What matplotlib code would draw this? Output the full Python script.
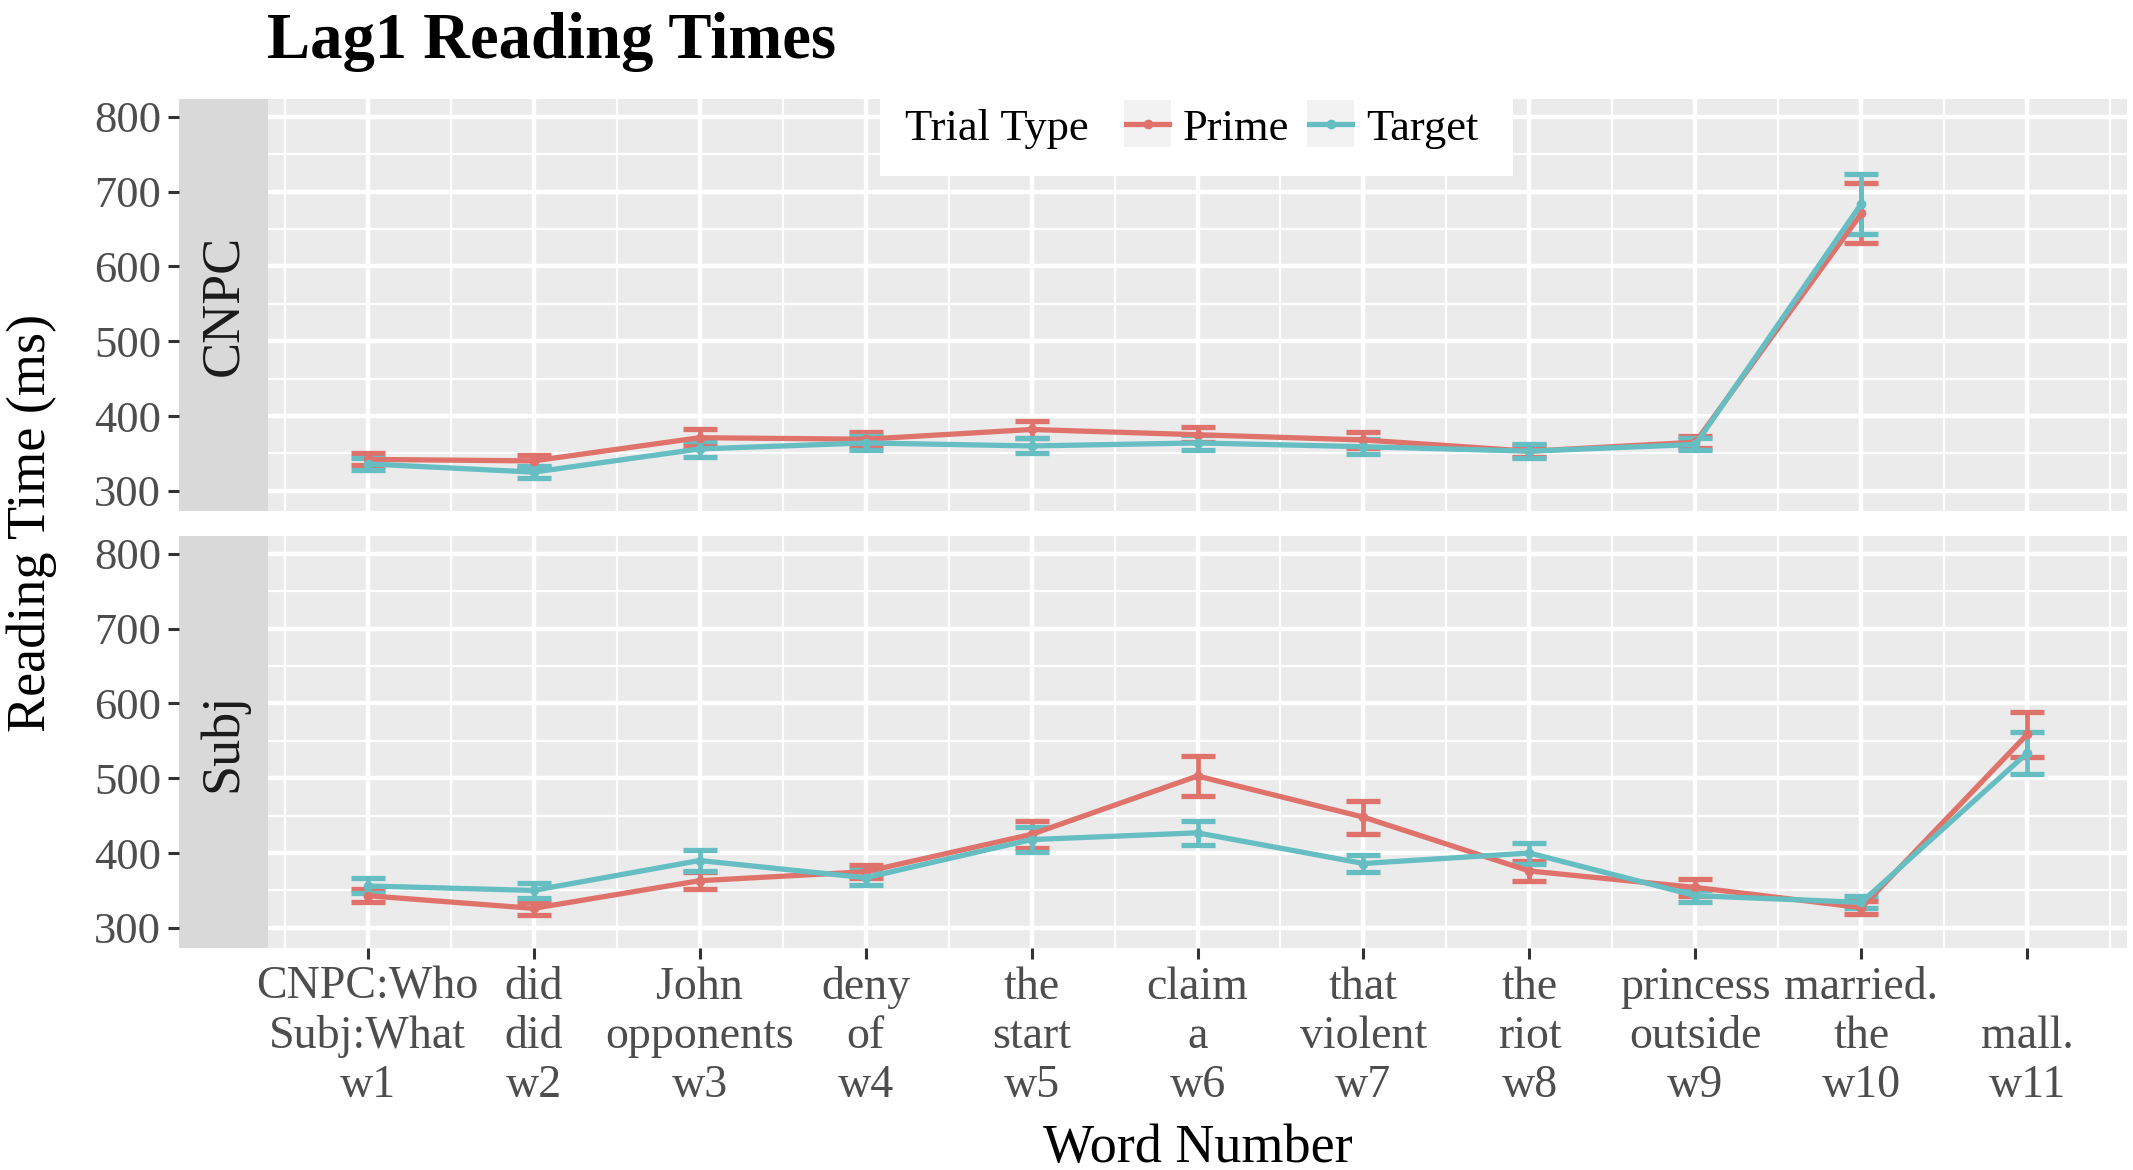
import matplotlib
matplotlib.use("Agg")
import matplotlib.pyplot as plt
from matplotlib.lines import Line2D
from matplotlib.patches import Rectangle
from matplotlib.ticker import MultipleLocator

plt.rcParams['font.family'] = ['Liberation Serif', 'DejaVu Serif']

# word positions and labels
word_numbers = list(range(1, 12))
word_ids = ["w1", "w2", "w3", "w4", "w5", "w6", "w7", "w8", "w9", "w10", "w11"]
cnpc_words = ["CNPC:Who", "did", "John", "deny", "the", "claim", "that", "the",
              "princess", "married.", ""]
subj_words = ["Subj:What", "did", "opponents", "of", "start", "a", "violent", "riot",
              "outside", "the", "mall."]

# reading times (ms) with error bars
cnpc_prime = [342, 340, 371, 369, 382, 375, 368, 353, 365, 671]
cnpc_prime_err = [8, 8, 11, 9, 12, 10, 11, 8, 8, 40]
cnpc_target = [336, 325, 356, 364, 360, 364, 359, 353, 362, 684]
cnpc_target_err = [8, 8, 11, 9, 10, 10, 10, 9, 8, 40]

subj_prime = [343, 326, 363, 375, 425, 503, 448, 376, 354, 327, 559]
subj_prime_err = [9, 9, 11, 9, 18, 27, 22, 14, 11, 9, 30]
subj_target = [356, 350, 390, 367, 418, 427, 386, 400, 343, 334, 534]
subj_target_err = [10, 10, 14, 10, 17, 16, 12, 14, 8, 8, 28]

prime_color = "#DF736C"
target_color = "#66BEC3"

W, H = 2133, 1170
fig = plt.figure(figsize=(W / 100, H / 100), dpi=100)


def fx(px):
    return px / W


def fy(py):
    return 1 - py / H


panel_left, panel_right = 268, 2127
strip_left = 179
panels = [("CNPC", 99, 511), ("Subj", 536, 948)]
series = {
    "CNPC": [(cnpc_prime, cnpc_prime_err, prime_color),
             (cnpc_target, cnpc_target_err, target_color)],
    "Subj": [(subj_prime, subj_prime_err, prime_color),
             (subj_target, subj_target_err, target_color)],
}

tick_labels = ["%s\n%s\n%s" % (a, b, c) for a, b, c in zip(cnpc_words, subj_words, word_ids)]

for name, top, bottom in panels:
    ax = fig.add_axes([fx(panel_left), fy(bottom), fx(panel_right - panel_left),
                       (bottom - top) / H])
    ax.set_facecolor("#EBEBEB")
    for s in ax.spines.values():
        s.set_visible(False)
    ax.set_xlim(0.4, 11.6)
    ax.set_ylim(273, 824)
    ax.set_xticks(word_numbers)
    ax.set_xticks([x + 0.5 for x in range(0, 12)], minor=True)
    ax.yaxis.set_major_locator(MultipleLocator(100))
    ax.yaxis.set_minor_locator(MultipleLocator(50))
    ax.grid(which="major", color="white", lw=3.2)
    ax.grid(which="minor", color="white", lw=1.6)
    ax.set_axisbelow(True)
    ax.tick_params(axis="y", which="both", left=False, labelleft=False)
    ax.tick_params(axis="x", which="minor", bottom=False)

    for vals, errs, col in series[name]:
        xs = word_numbers[:len(vals)]
        ax.errorbar(xs, vals, yerr=errs, color=col, lw=3.8, marker="o", ms=6,
                    capsize=12, capthick=3.8, elinewidth=3.4)

    if name == "CNPC":
        ax.tick_params(axis="x", which="major", bottom=False, labelbottom=False)
    else:
        ax.set_xticklabels(tick_labels, fontsize=33, color="#4D4D4D",
                           linespacing=1.2)
        ax.tick_params(axis="x", which="major", length=8, width=2.2,
                       color="#333333", pad=5)

    # strip on the left, carries the y ticks
    sax = fig.add_axes([fx(strip_left), fy(bottom), fx(panel_left - strip_left),
                        (bottom - top) / H], sharey=ax)
    sax.set_facecolor("#D9D9D9")
    for s in sax.spines.values():
        s.set_visible(False)
    sax.set_xticks([])
    sax.yaxis.set_major_locator(MultipleLocator(100))
    sax.tick_params(axis="y", which="major", labelsize=32, labelcolor="#4D4D4D",
                    length=8, width=2.2, color="#333333", pad=5)
    sax.tick_params(axis="y", which="minor", left=False)
    sax.text(0.5, 0.5, name, transform=sax.transAxes, rotation=90,
             ha="center", va="center", fontsize=39, color="#1A1A1A")

# titles
fig.text(fx(267), fy(58), "Lag1 Reading Times", fontsize=46.5, fontweight="bold",
         ha="left", va="baseline")
fig.text(fx((panel_left + panel_right) / 2), fy(1162), "Word Number", fontsize=39,
         ha="center", va="baseline")
fig.text(fx(32), fy(523), "Reading Time (ms)", fontsize=39, rotation=90,
         ha="center", va="center")

# legend
fig.add_artist(Rectangle((fx(880), fy(176)), fx(633), (176 - 92) / H,
                         transform=fig.transFigure, facecolor="white",
                         edgecolor="none", zorder=5))
fig.text(fx(905), fy(140), "Trial Type", fontsize=32, ha="left", va="baseline",
         zorder=6)
for label, col, kx in [("Prime", prime_color, 1124), ("Target", target_color, 1307)]:
    fig.add_artist(Rectangle((fx(kx), fy(147)), fx(47), 47 / H,
                             transform=fig.transFigure, facecolor="#F2F2F2",
                             edgecolor="none", zorder=6))
    fig.add_artist(Line2D([fx(kx + 2), fx(kx + 45)], [fy(123.5), fy(123.5)],
                          transform=fig.transFigure, color=col, lw=3.8, zorder=7))
    fig.add_artist(Line2D([fx(kx + 23.5)], [fy(123.5)], transform=fig.transFigure,
                          color=col, marker="o", ms=6, zorder=7))
    fig.text(fx(kx + 59), fy(140), label, fontsize=32, ha="left", va="baseline",
             zorder=6)

fig.savefig("out.png", dpi=100)
